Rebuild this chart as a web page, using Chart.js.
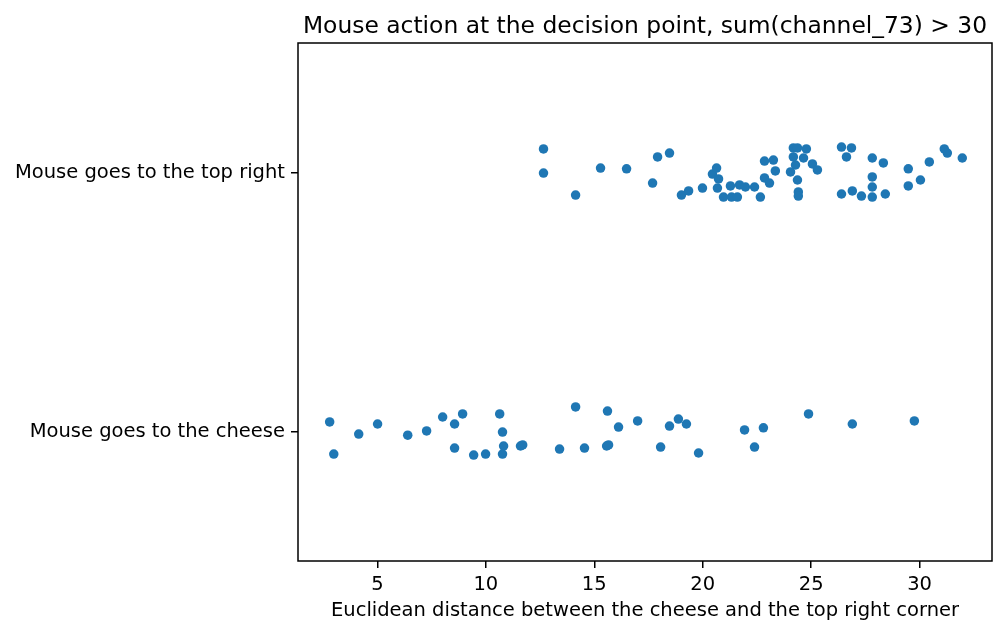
<!DOCTYPE html>
<html>
<head>
  <title>Mouse action at the decision point</title>
  <script src="https://cdn.jsdelivr.net/npm/chart.js"></script>
  <style>
    html, body { margin: 0; padding: 0; background: #fff; }
    #wrap { width: 1006px; height: 634px; }
  </style>
</head>
<body>
  <div id="wrap"><canvas id="myChart" width="1006" height="634"></canvas></div>
  <script>
    // categories (top to bottom)
    const categories = ['Mouse goes to the top right', 'Mouse goes to the cheese'];
    const xTicks = [5, 10, 15, 20, 25, 30];

    // distances + strip jitter
    const topRightDistance = [12.66, 12.66, 14.14, 15.29, 16.49, 17.69, 17.92, 18.47, 19.02, 19.35,
      19.99, 20.45, 20.64, 20.73, 20.68, 20.96, 21.28, 21.33, 21.60, 21.70,
      21.97, 22.39, 22.66, 22.85, 23.26, 23.35, 22.85, 23.08, 24.18, 24.37,
      24.78, 24.18, 24.65, 24.28, 24.05, 24.37, 25.06, 25.29, 24.41, 24.41,
      26.40, 26.86, 26.63, 26.40, 26.90, 27.32, 27.82, 28.33, 27.82, 27.82,
      27.82, 28.42, 29.48, 29.48, 30.04, 30.45, 31.14, 31.28, 31.97];
    const topRightJitter = [-0.091, 0.002, 0.087, -0.017, -0.014, 0.041, -0.060, -0.075, 0.087, 0.071,
      0.060, 0.006, -0.017, 0.025, 0.060, 0.095, 0.052, 0.095, 0.095, 0.048,
      0.056, 0.056, 0.095, -0.044, -0.048, -0.006, 0.021, 0.041, -0.095, -0.095,
      -0.091, -0.060, -0.056, -0.029, -0.002, 0.029, -0.033, -0.010, 0.075, 0.091,
      -0.098, -0.095, -0.060, 0.083, 0.071, 0.091, -0.056, -0.037, 0.017, 0.056,
      0.095, 0.083, -0.014, 0.052, 0.029, -0.041, -0.091, -0.075, -0.056];

    const cheeseDistance = [2.80, 2.99, 4.14, 5.01, 6.40, 7.27, 8.01, 8.56, 8.56, 8.93,
      9.44, 9.99, 10.64, 10.77, 10.82, 10.77, 11.60, 11.70, 13.40, 14.14,
      14.55, 15.61, 15.57, 15.66, 16.12, 17.00, 18.06, 18.47, 18.88, 19.25,
      19.81, 21.93, 22.39, 22.80, 24.88, 26.90, 29.76];
    const cheeseJitter = [-0.037, 0.087, 0.010, -0.029, 0.014, -0.002, -0.056, -0.029, 0.064, -0.068,
      0.091, 0.087, -0.068, 0.002, 0.056, 0.087, 0.056, 0.052, 0.068, -0.095,
      0.064, -0.079, 0.056, 0.052, -0.017, -0.041, 0.060, -0.021, -0.048, -0.029,
      0.083, -0.006, 0.060, -0.014, -0.068, -0.029, -0.041];

    const TITLE = 'Mouse action at the decision point, sum(channel_73) > 30';
    const XLABEL = 'Euclidean distance between the cheese and the top right corner';
    const FONT = '"DejaVu Sans", sans-serif';

    function toPoints(xs, js, idx) {
      return xs.map((x, i) => ({ x: x, y: idx + js[i] }));
    }

    // frame + title + x label, placed on the plot area like matplotlib does
    const framePlugin = {
      id: 'frame',
      afterDraw(chart) {
        const a = chart.chartArea;
        const ctx = chart.ctx;
        ctx.save();
        ctx.strokeStyle = '#000';
        ctx.lineWidth = 1.5;
        ctx.strokeRect(a.left, a.top, a.right - a.left, a.bottom - a.top);
        const cx = (a.left + a.right) / 2;
        ctx.fillStyle = '#000';
        ctx.textAlign = 'center';
        ctx.textBaseline = 'alphabetic';
        ctx.font = '23.4px ' + FONT;
        ctx.fillText(TITLE, cx, 33);
        ctx.font = '19.5px ' + FONT;
        ctx.fillText(XLABEL, cx, 616);
        ctx.restore();
      }
    };

    const ctx = document.getElementById('myChart').getContext('2d');
    new Chart(ctx, {
      type: 'scatter',
      data: {
        datasets: [
          { label: categories[0], data: toPoints(topRightDistance, topRightJitter, 0) },
          { label: categories[1], data: toPoints(cheeseDistance, cheeseJitter, 1) }
        ]
      },
      options: {
        responsive: false,
        animation: false,
        layout: { padding: { left: 0, right: 14, top: 43, bottom: 0 } },
        elements: {
          point: { radius: 4.75, hoverRadius: 4.75, backgroundColor: '#1f77b4', borderWidth: 0 }
        },
        plugins: {
          legend: { display: false },
          tooltip: { enabled: false }
        },
        scales: {
          x: {
            type: 'linear',
            min: 1.34,
            max: 33.34,
            afterBuildTicks: s => { s.ticks = xTicks.map(v => ({ value: v })); },
            afterFit: s => { s.height = 73; },
            border: { display: false },
            grid: { drawOnChartArea: false, drawTicks: true, tickLength: 7, color: '#000', lineWidth: 1.5 },
            ticks: { color: '#000', font: { family: FONT, size: 19.5 }, padding: 5, maxRotation: 0 }
          },
          y: {
            type: 'linear',
            reverse: true,
            min: -0.5,
            max: 1.5,
            afterBuildTicks: s => { s.ticks = categories.map((c, i) => ({ value: i })); },
            afterFit: s => { s.width = 298; },
            border: { display: false },
            grid: { drawOnChartArea: false, drawTicks: true, tickLength: 7, color: '#000', lineWidth: 1.5 },
            ticks: {
              color: '#000',
              font: { family: FONT, size: 19.5 },
              padding: 6,
              callback: v => categories[v]
            }
          }
        }
      },
      plugins: [framePlugin]
    });
  </script>
</body>
</html>
